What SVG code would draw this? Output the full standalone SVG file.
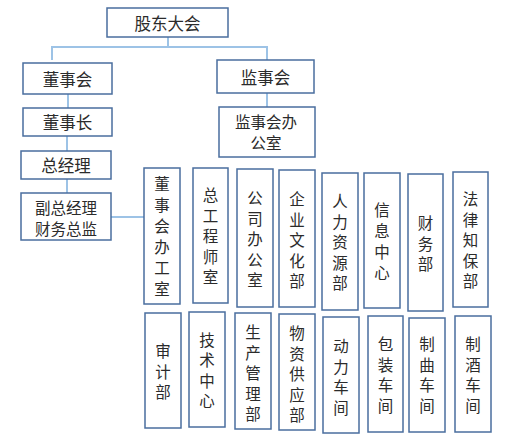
<svg xmlns="http://www.w3.org/2000/svg" width="510" height="442" viewBox="0 0 510 442">
<style>
.box{fill:#ffffff;stroke:#4a6e9e;stroke-width:1.5}
.t{font-family:"Noto Sans CJK SC","Liberation Sans",sans-serif;font-size:15.5px;fill:#2b2b2b;text-anchor:middle;dominant-baseline:central}
.s{font-size:16.5px}
.c{fill:none;stroke:#9dc3e6;stroke-width:2}
</style>
<rect width="510" height="442" fill="#ffffff"/>
<g id="connectors">
<path class="c" d="M168,37 V47 M52,60 V47 H267 V60"/>
<path class="c" d="M68,94 V108"/>
<path class="c" d="M67,136 V151"/>
<path class="c" d="M67,179 V193"/>
<path class="c" d="M111,217 H144"/>
<path class="c" d="M267,93 V107"/>
</g>
<g id="n_gudong"><rect class="box" x="107" y="8" width="121" height="29"/><text class="t s" x="167.5" y="22.5">股东大会</text></g>
<g id="n_dongshihui"><rect class="box" x="23" y="63" width="89" height="31"/><text class="t s" x="67.5" y="78.5">董事会</text></g>
<g id="n_jianshihui"><rect class="box" x="217" y="60" width="97" height="33"/><text class="t s" x="265.5" y="76.5">监事会</text></g>
<g id="n_dongshizhang"><rect class="box" x="23" y="108" width="89" height="28"/><text class="t s" x="67.5" y="122">董事长</text></g>
<g id="n_jianshiban"><rect class="box" x="219" y="107" width="96" height="50"/><text class="t" x="266" y="121">监事会办</text><text class="t" x="266" y="141.5">公室</text></g>
<g id="n_zongjingli"><rect class="box" x="21" y="151" width="90" height="28"/><text class="t s" x="66" y="165">总经理</text></g>
<g id="n_fuzong"><rect class="box" x="21" y="193" width="90" height="47"/><text class="t" x="66" y="207">副总经理</text><text class="t" x="66" y="228">财务总监</text></g>
<g id="n_dongban"><rect class="box" x="144" y="168" width="36" height="136"/><text class="t"><tspan x="162" y="183">董</tspan><tspan x="162" y="204">事</tspan><tspan x="162" y="225">会</tspan><tspan x="162" y="246">办</tspan><tspan x="162" y="267">工</tspan><tspan x="162" y="288">室</tspan></text></g>
<g id="n_zonggong"><rect class="box" x="193" y="168" width="35" height="135"/><text class="t"><tspan x="210.5" y="194">总</tspan><tspan x="210.5" y="214.5">工</tspan><tspan x="210.5" y="235">程</tspan><tspan x="210.5" y="255.5">师</tspan><tspan x="210.5" y="276">室</tspan></text></g>
<g id="n_gongsiban"><rect class="box" x="237" y="169" width="36" height="138"/><text class="t"><tspan x="255" y="197">公</tspan><tspan x="255" y="217.5">司</tspan><tspan x="255" y="238">办</tspan><tspan x="255" y="258.5">公</tspan><tspan x="255" y="279">室</tspan></text></g>
<g id="n_qiye"><rect class="box" x="279" y="170" width="36" height="137"/><text class="t"><tspan x="297" y="198">企</tspan><tspan x="297" y="218.5">业</tspan><tspan x="297" y="239">文</tspan><tspan x="297" y="259.5">化</tspan><tspan x="297" y="280">部</tspan></text></g>
<g id="n_renli"><rect class="box" x="322" y="173" width="36" height="137"/><text class="t"><tspan x="340" y="200">人</tspan><tspan x="340" y="220.5">力</tspan><tspan x="340" y="241">资</tspan><tspan x="340" y="261.5">源</tspan><tspan x="340" y="282">部</tspan></text></g>
<g id="n_xinxi"><rect class="box" x="364" y="173" width="36" height="135"/><text class="t"><tspan x="382" y="209">信</tspan><tspan x="382" y="230">息</tspan><tspan x="382" y="251">中</tspan><tspan x="382" y="272">心</tspan></text></g>
<g id="n_caiwu"><rect class="box" x="408" y="174" width="35" height="137"/><text class="t"><tspan x="425.5" y="222">财</tspan><tspan x="425.5" y="242.5">务</tspan><tspan x="425.5" y="263">部</tspan></text></g>
<g id="n_falv"><rect class="box" x="453" y="172" width="35" height="135"/><text class="t"><tspan x="470.5" y="198">法</tspan><tspan x="470.5" y="218.5">律</tspan><tspan x="470.5" y="239">知</tspan><tspan x="470.5" y="259.5">保</tspan><tspan x="470.5" y="280">部</tspan></text></g>
<g id="n_shenji"><rect class="box" x="145" y="313" width="36" height="115"/><text class="t"><tspan x="163" y="350">审</tspan><tspan x="163" y="370.5">计</tspan><tspan x="163" y="391">部</tspan></text></g>
<g id="n_jishu"><rect class="box" x="189" y="312" width="36" height="115"/><text class="t"><tspan x="207" y="338.5">技</tspan><tspan x="207" y="359">术</tspan><tspan x="207" y="379.5">中</tspan><tspan x="207" y="400">心</tspan></text></g>
<g id="n_shengchan"><rect class="box" x="235" y="313" width="36" height="116"/><text class="t"><tspan x="253" y="331">生</tspan><tspan x="253" y="351.5">产</tspan><tspan x="253" y="372">管</tspan><tspan x="253" y="392.5">理</tspan><tspan x="253" y="413">部</tspan></text></g>
<g id="n_wuzi"><rect class="box" x="279" y="314" width="36" height="116"/><text class="t"><tspan x="297" y="332">物</tspan><tspan x="297" y="352.5">资</tspan><tspan x="297" y="373">供</tspan><tspan x="297" y="393.5">应</tspan><tspan x="297" y="414">部</tspan></text></g>
<g id="n_dongli"><rect class="box" x="323" y="317" width="36" height="116"/><text class="t"><tspan x="341" y="345">动</tspan><tspan x="341" y="365.5">力</tspan><tspan x="341" y="386">车</tspan><tspan x="341" y="406.5">间</tspan></text></g>
<g id="n_baozhuang"><rect class="box" x="368" y="316" width="35" height="116"/><text class="t"><tspan x="385.5" y="343">包</tspan><tspan x="385.5" y="363.5">装</tspan><tspan x="385.5" y="384">车</tspan><tspan x="385.5" y="404.5">间</tspan></text></g>
<g id="n_zhiqu"><rect class="box" x="409" y="318" width="36" height="114"/><text class="t"><tspan x="427" y="343">制</tspan><tspan x="427" y="363.5">曲</tspan><tspan x="427" y="384">车</tspan><tspan x="427" y="404.5">间</tspan></text></g>
<g id="n_zhijiu"><rect class="box" x="455" y="316" width="36" height="116"/><text class="t"><tspan x="473" y="343">制</tspan><tspan x="473" y="363.5">酒</tspan><tspan x="473" y="384">车</tspan><tspan x="473" y="404.5">间</tspan></text></g>
</svg>
